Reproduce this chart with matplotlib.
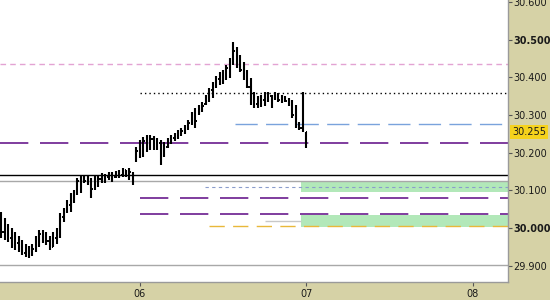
import matplotlib

matplotlib.use("Agg")
import matplotlib.dates as mdates
import matplotlib.pyplot as plt
import pandas as pd

# 30-minute bars ending on day 07 00:00
BAR_TIMES = pd.date_range(end="2015-01-07 00:00", periods=89, freq="30min")

HIGHS = [
    30.042, 30.027, 30.011, 30.000, 29.989, 29.979, 29.968, 29.958, 29.952, 29.958,
    29.979, 29.995, 29.995, 29.989, 29.979, 29.989, 30.000, 30.040, 30.053, 30.074,
    30.093, 30.101, 30.133, 30.141, 30.138, 30.141, 30.133, 30.138, 30.141, 30.146,
    30.143, 30.149, 30.149, 30.151, 30.154, 30.159, 30.154, 30.159, 30.149, 30.215,
    30.233, 30.241, 30.247, 30.247, 30.244, 30.239, 30.233, 30.228, 30.239, 30.247,
    30.252, 30.260, 30.265, 30.273, 30.286, 30.308, 30.318, 30.326, 30.334, 30.353,
    30.371, 30.387, 30.403, 30.414, 30.419, 30.432, 30.451, 30.493, 30.480, 30.459,
    30.440, 30.419, 30.398, 30.361, 30.350, 30.353, 30.361, 30.361, 30.353, 30.361,
    30.358, 30.353, 30.350, 30.345, 30.340, 30.326, 30.281, 30.361, 30.255,
]
LOWS = [
    29.973, 29.968, 29.963, 29.947, 29.942, 29.936, 29.928, 29.923, 29.920, 29.926,
    29.936, 29.950, 29.960, 29.955, 29.942, 29.950, 29.958, 29.973, 30.016, 30.040,
    30.042, 30.066, 30.088, 30.093, 30.119, 30.114, 30.080, 30.101, 30.109, 30.119,
    30.119, 30.127, 30.122, 30.133, 30.133, 30.135, 30.135, 30.127, 30.114, 30.175,
    30.186, 30.188, 30.202, 30.207, 30.207, 30.207, 30.167, 30.188, 30.212, 30.223,
    30.231, 30.236, 30.244, 30.249, 30.260, 30.273, 30.265, 30.300, 30.308, 30.326,
    30.334, 30.345, 30.371, 30.379, 30.382, 30.393, 30.398, 30.432, 30.424, 30.414,
    30.393, 30.371, 30.326, 30.318, 30.318, 30.321, 30.324, 30.334, 30.318, 30.340,
    30.334, 30.332, 30.334, 30.324, 30.292, 30.265, 30.260, 30.255, 30.212,
]
OPENS = [
    30.030, 29.990, 29.980, 29.975, 29.955, 29.960, 29.945, 29.935, 29.930, 29.928,
    29.945, 29.965, 29.985, 29.970, 29.965, 29.950, 29.975, 29.978, 30.030, 30.045,
    30.060, 30.085, 30.090, 30.125, 30.130, 30.125, 30.120, 30.105, 30.125, 30.130,
    30.125, 30.135, 30.140, 30.135, 30.145, 30.140, 30.155, 30.145, 30.145, 30.180,
    30.205, 30.195, 30.230, 30.215, 30.235, 30.220, 30.225, 30.190, 30.215, 30.230,
    30.240, 30.245, 30.250, 30.258, 30.268, 30.280, 30.300, 30.305, 30.315, 30.330,
    30.345, 30.365, 30.380, 30.395, 30.405, 30.412, 30.425, 30.445, 30.470, 30.440,
    30.420, 30.400, 30.375, 30.335, 30.330, 30.325, 30.340, 30.345, 30.350, 30.345,
    30.350, 30.340, 30.345, 30.338, 30.330, 30.300, 30.275, 30.265, 30.230,
]
CLOSES = [
    29.990, 29.980, 29.975, 29.955, 29.960, 29.945, 29.935, 29.930, 29.928, 29.945,
    29.965, 29.985, 29.970, 29.965, 29.950, 29.975, 29.960, 30.030, 30.045, 30.060,
    30.085, 30.090, 30.125, 30.130, 30.125, 30.120, 30.105, 30.125, 30.130, 30.125,
    30.135, 30.140, 30.130, 30.145, 30.140, 30.155, 30.145, 30.150, 30.120, 30.205,
    30.195, 30.230, 30.215, 30.235, 30.220, 30.225, 30.190, 30.215, 30.230, 30.240,
    30.245, 30.250, 30.258, 30.268, 30.280, 30.300, 30.285, 30.315, 30.325, 30.345,
    30.365, 30.380, 30.395, 30.405, 30.412, 30.425, 30.445, 30.470, 30.440, 30.420,
    30.400, 30.375, 30.335, 30.330, 30.325, 30.340, 30.345, 30.355, 30.330, 30.350,
    30.340, 30.345, 30.338, 30.330, 30.300, 30.275, 30.265, 30.358, 30.255,
]

LAST_PRICE = 30.255
Y_TICKS = [29.9, 30.0, 30.1, 30.2, 30.3, 30.4, 30.5, 30.6]
DAY_TICKS = pd.to_datetime(["2015-01-06", "2015-01-07", "2015-01-08"])

# horizontal levels: (price, start time) where a level does not span the full width
PINK_LEVEL = 30.435
DOTTED_LEVEL = (30.358, "2015-01-06 00:00")
BLUE_LEVEL = (30.276, "2015-01-06 13:40")
PURPLE_LEVEL_TOP = 30.225
BLACK_LEVEL = 30.141
GREY_LEVEL = 30.125
GREY_LEVEL_LOW = 29.902
THIN_BLUE_LEVEL = (30.108, "2015-01-06 09:20")
PURPLE_LEVELS_LOW = ([30.080, 30.037], "2015-01-06 00:00")
SHORT_GREY_LEVEL = (30.019, "2015-01-06 18:00", "2015-01-06 23:15")
GOLD_LEVEL = (30.006, "2015-01-06 10:00")
GREEN_ZONES = [(30.096, 30.124), (30.003, 30.034)]
ZONE_START = "2015-01-06 23:15"

BG = "#d6d2a6"

fig = plt.figure(figsize=(5.5, 3.0), dpi=100, facecolor=BG)
ax = fig.add_axes([0.0, 18 / 300, 508 / 550, 282 / 300])
ax.set_facecolor("white")

x = mdates.date2num(BAR_TIMES)
day0 = mdates.date2num(DAY_TICKS[0])
day1 = mdates.date2num(DAY_TICKS[1])
x_left = day0 - 140 / 166.5
x_right = day1 + 202 / 166.5
ax.set_xlim(x_left, x_right)
ax.set_ylim(29.857, 30.605)


def t(s):
    return mdates.date2num(pd.Timestamp(s))


# green zones
for lo, hi in GREEN_ZONES:
    ax.fill_between([t(ZONE_START), x_right], lo, hi, color="#b2e8b9", lw=0, zorder=1)

# levels
ax.axhline(PINK_LEVEL, color="#e3a3d3", lw=1, ls=(0, (4, 3)), zorder=2)
ax.hlines(DOTTED_LEVEL[0], t(DOTTED_LEVEL[1]), x_right, color="black", lw=1,
          ls=(0, (1, 2.2)), zorder=2)
ax.hlines(BLUE_LEVEL[0], t(BLUE_LEVEL[1]), x_right, color="#7aa3dc", lw=1,
          ls=(0, (16, 6)), zorder=2)
ax.axhline(PURPLE_LEVEL_TOP, color="#6a1b8e", lw=1.2, ls=(0, (17, 7)), zorder=2)
ax.axhline(BLACK_LEVEL, color="black", lw=1, zorder=2)
ax.axhline(GREY_LEVEL, color="#a8a8a8", lw=1, zorder=2)
ax.axhline(GREY_LEVEL_LOW, color="#a8a8a8", lw=1, zorder=2)
ax.hlines(THIN_BLUE_LEVEL[0], t(THIN_BLUE_LEVEL[1]), x_right, color="#8a9ccc", lw=0.8,
          ls=(0, (3, 3)), zorder=2)
for lvl in PURPLE_LEVELS_LOW[0]:
    ax.hlines(lvl, t(PURPLE_LEVELS_LOW[1]), x_right, color="#6a1b8e", lw=1.2,
              ls=(0, (17, 7)), zorder=2)
ax.hlines(SHORT_GREY_LEVEL[0], t(SHORT_GREY_LEVEL[1]), t(SHORT_GREY_LEVEL[2]),
          color="#c8c8c8", lw=1, zorder=2)
ax.hlines(GOLD_LEVEL[0], t(GOLD_LEVEL[1]), x_right, color="#e9b83a", lw=1,
          ls=(0, (11, 6)), zorder=2)

# OHLC bars
tick = 11 / 1440
ax.vlines(x, LOWS, HIGHS, color="black", lw=1.5, zorder=4)
ax.hlines(OPENS, x - tick, x, color="black", lw=1.4, zorder=4)
ax.hlines(CLOSES, x, x + tick, color="black", lw=1.4, zorder=4)

# axes styling
for side in ("top", "left"):
    ax.spines[side].set_visible(False)
for side in ("right", "bottom"):
    ax.spines[side].set_color("#9a9a9a")
    ax.spines[side].set_linewidth(1)

ax.yaxis.tick_right()
ax.set_yticks(Y_TICKS)
ax.set_yticklabels([f"{v:.3f}" for v in Y_TICKS])
for lab, v in zip(ax.get_yticklabels(), Y_TICKS):
    if abs(v - round(v * 2) / 2) < 1e-9:
        lab.set_fontweight("bold")
ax.tick_params(axis="y", length=3, width=0.8, color="#555555", labelsize=7,
               labelcolor="#1a1a1a", pad=1)

ax.set_xticks(mdates.date2num(DAY_TICKS))
ax.set_xticklabels([d.strftime("%d") for d in DAY_TICKS])
ax.tick_params(axis="x", length=3, width=0.8, color="#555555", labelsize=7,
               labelcolor="#1a1a1a", pad=2)

ax.text(1.008, LAST_PRICE, f"{LAST_PRICE:.3f}", transform=ax.get_yaxis_transform(),
        ha="left", va="center", fontsize=7, color="#1a1a1a", zorder=6,
        bbox=dict(boxstyle="square,pad=0.2", fc="#f5d21c", ec="none"))

fig.savefig("out.png", dpi=100, facecolor=BG)
